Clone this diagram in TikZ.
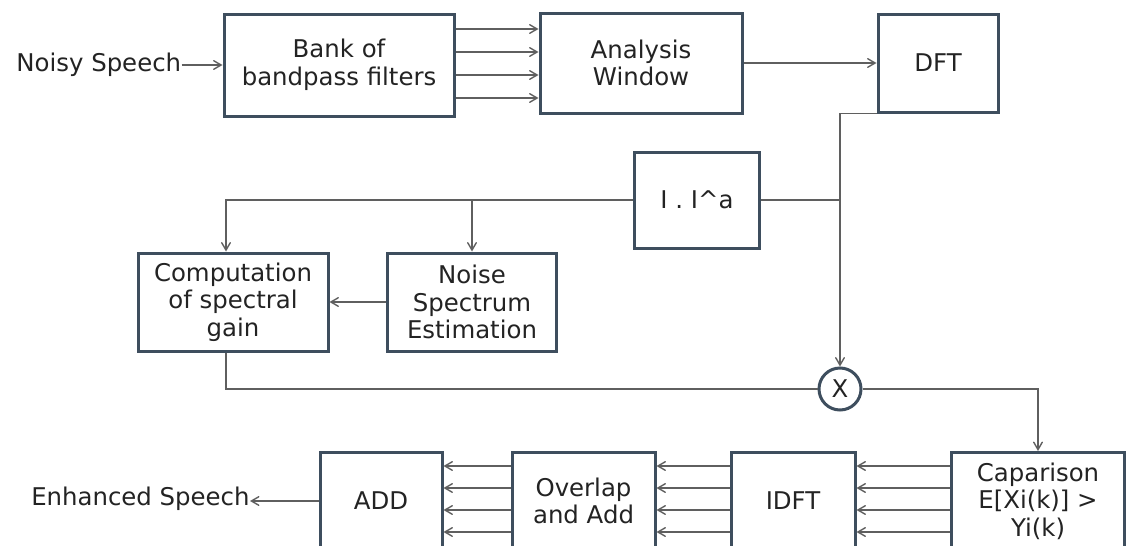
\documentclass[tikz,border=0pt]{standalone}
\usepackage{fontspec}
\setmainfont{DejaVu Sans}
\usetikzlibrary{shapes, arrows}
\definecolor{boxline}{RGB}{62,78,94}
\definecolor{wireline}{RGB}{95,95,95}
\definecolor{txt}{RGB}{35,35,35}
\tikzstyle{process} = [rectangle, text centered, align=center, draw=boxline, line width=1.5pt, text=txt, fill=white]
\tikzstyle{io} = [inner sep=0pt, text=txt]
\tikzstyle{mixer} = [circle, minimum size=21pt, inner sep=0pt, draw=boxline, line width=1.5pt, text=txt, fill=white]
\tikzstyle{edge} = [draw=wireline, line width=0.7pt, ->, >=angle 60]
\tikzstyle{wire} = [draw=wireline, line width=0.7pt]

\begin{document}
\begin{tikzpicture}[x=0.5pt, y=-0.5pt, font=\fontsize{12.2}{13.8}\selectfont]

\useasboundingbox (0,0) rectangle (1135,546);
\clip (0,0) rectangle (1135,546);
\fill [white] (0,0) rectangle (1135,546);

% top row
\node (0) [io, anchor=west] at (16,65) {Noisy Speech};
\node (1) [process, minimum width=115pt, minimum height=51pt] at (339,65) {Bank of\\bandpass filters};
\node (2) [process, minimum width=101pt, minimum height=50pt] at (641,63) {Analysis\\Window};
\node (3) [process, minimum width=60pt, minimum height=49pt] at (938,63) {DFT};

% middle row
\node (4) [process, minimum width=62.5pt, minimum height=48pt] at (697,200) {I . I\textasciicircum a};
\node (5) [process, minimum width=95pt, minimum height=49pt] at (233,302) {Computation\\of spectral\\gain};
\node (6) [process, minimum width=84.5pt, minimum height=49pt] at (472,302) {Noise\\Spectrum\\Estimation};
\node (7) [mixer] at (840,389) {X};
\coordinate (j) at (840,200);

% bottom row
\node (8) [process, minimum width=86.5pt, minimum height=48.5pt] at (1038,501) {Caparison\\E[Xi(k)] >\\Yi(k)};
\node (9) [process, minimum width=62pt, minimum height=48.5pt] at (793,501) {IDFT};
\node (10) [process, minimum width=71.5pt, minimum height=48.5pt] at (583.5,501) {Overlap\\and Add};
\node (11) [process, minimum width=61pt, minimum height=48.5pt] at (381,501) {ADD};
\node (12) [io, anchor=east] at (250,499) {Enhanced Speech};

\draw [edge] (0) -- (1);
\foreach \dy in {18,6.5,-5,-16.5}
  \draw [edge] ([yshift=\dy pt]1.east) -- ([yshift=\dy pt]1.east -| 2.west);
\draw [edge] (2) -- (3);

\draw [wire] (3.south west) -| (j);
\draw [wire] (j) -- (4.east);
\draw [edge] (j) -- (7);
\draw [edge] (4.west) -| ([xshift=-3.5pt]5.north);
\draw [edge] (4.west -| 6.north) -- (6.north);
\draw [edge] (6) -- (5);
\draw [wire] ([xshift=-3.5pt]5.south) |- (7);
\draw [edge] (7) -| (8.north);

\foreach \dy in {17.5,6.5,-4.5,-15.5} {
  \draw [edge] ([yshift=\dy pt]8.west) -- ([yshift=\dy pt]8.west -| 9.east);
  \draw [edge] ([yshift=\dy pt]9.west) -- ([yshift=\dy pt]9.west -| 10.east);
  \draw [edge] ([yshift=\dy pt]10.west) -- ([yshift=\dy pt]10.west -| 11.east);
}
\draw [edge] (11.west) -- (11.west -| 12.east);

\end{tikzpicture}
\end{document}
